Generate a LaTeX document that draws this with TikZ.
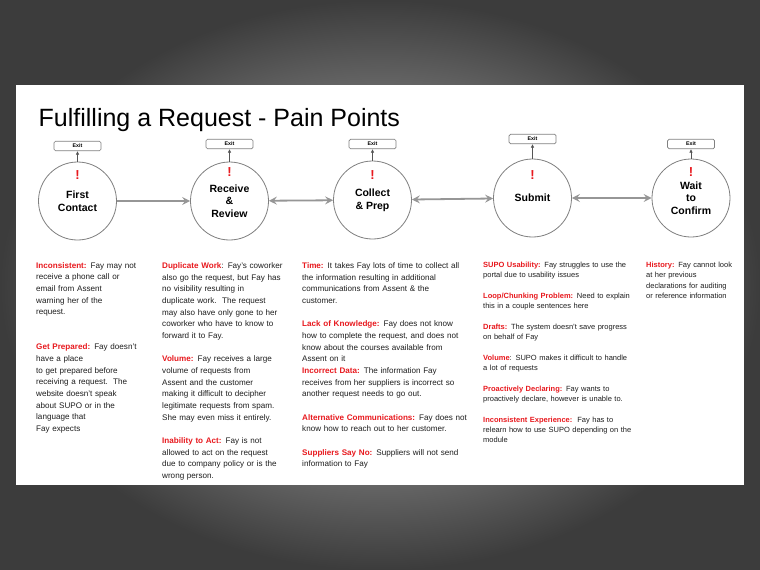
\documentclass[tikz,border=0pt]{standalone}
\usepackage{fontspec}
\setmainfont{Liberation Sans}
\usetikzlibrary{arrows.meta}
\definecolor{redlbl}{HTML}{E8191E}
\definecolor{bodytxt}{HTML}{1E1E1E}
\definecolor{circc}{HTML}{808080}
\definecolor{flowc}{HTML}{969696}
\definecolor{exitc}{HTML}{555555}
\definecolor{bgin}{HTML}{C4C4C4}
\definecolor{bgout}{HTML}{3C3C3C}
\newcommand{\hl}[1]{\textcolor{redlbl}{\bfseries #1}}
\begin{document}
\begin{tikzpicture}[x=1pt,y=-1pt,
  stage/.style={circle,draw=circc,line width=0.8pt,fill=white,minimum size=78pt,inner sep=0pt,align=center,
    font=\bfseries\fontsize{10.5}{12.7}\selectfont,text=black},
  exitbox/.style={draw=circc,line width=0.7pt,rounded corners=1.5pt,fill=white,minimum width=47pt,minimum height=9.5pt,inner sep=0pt,
    font=\bfseries\fontsize{5.3}{6}\selectfont},
  bang/.style={font=\bfseries\fontsize{13}{14}\selectfont,text=redlbl,inner sep=0pt},
  exitarrow/.style={draw=exitc,line width=0.8pt,-{Latex[length=3.5pt,width=3.5pt]}},
  flow/.style={draw=flowc,line width=1.8pt,-{Stealth[length=8pt,width=8pt,inset=3pt]}},
  flow2/.style={draw=flowc,line width=1.8pt,{Stealth[length=8pt,width=8pt,inset=3pt]}-{Stealth[length=8pt,width=8pt,inset=3pt]}},
  bodyA/.style={anchor=base west,inner sep=0pt,align=left,text=bodytxt,font=\fontsize{8.1}{11.67}\selectfont},
  bodyB/.style={anchor=base west,inner sep=0pt,align=left,text=bodytxt,font=\fontsize{7.5}{10.45}\selectfont}
]
\useasboundingbox (0,0) rectangle (760,570);
\shade[inner color=bgin, outer color=bgout] (0,0) rectangle (760,570);
\fill[white] (16,85) rectangle (744,485);

\node[anchor=base west,inner sep=0pt,font=\fontsize{25}{30}\selectfont] (title) at (38.5,126) {Fulfilling a Request - Pain Points};

% stages
\node[stage] (A) at (77.5,201) {First\\Contact};
\node[stage] (B) at (229.5,201) {Receive\\\&\\Review};
\node[stage] (C) at (372.5,200) {Collect\\\& Prep};
\node[stage] (D) at (532.5,198) {Submit};
\node[stage] (E) at (691,198) {Wait\\to\\Confirm};

% exits
\node[exitbox] (xA) at (77.5,146) {Exit};
\node[exitbox] (xB) at (229.5,144) {Exit};
\node[exitbox] (xC) at (372.5,144) {Exit};
\node[exitbox] (xD) at (532.5,139) {Exit};
\node[exitbox] (xE) at (691,144) {Exit};

\draw[exitarrow] (A.north) -- (xA.south);
\draw[exitarrow] (B.north) -- (xB.south);
\draw[exitarrow] (C.north) -- (xC.south);
\draw[exitarrow] (D.north) -- (xD.south);
\draw[exitarrow] (E.north) -- (xE.south);

% bangs
\node[bang] (bA) at (77.5,175) {!};
\node[bang] (bB) at (229.5,172.5) {!};
\node[bang] (bC) at (372.5,175) {!};
\node[bang] (bD) at (532.5,175) {!};
\node[bang] (bE) at (691,172.5) {!};

% flows
\draw[flow] (A) -- (B);
\draw[flow2] (B) -- (C);
\draw[flow2] (C) -- (D);
\draw[flow2] (D) -- (E);

% column texts
\node[bodyA,text width=125pt] (t1) at (36,268) {\hl{Inconsistent:} Fay may not\\receive a phone call or\\email from Assent\\warning her of the\\request.\\[23.34pt]
\hl{Get Prepared:} Fay doesn’t\\have a place\\to get prepared before\\receiving a request.\ \ The\\website doesn’t speak\\about SUPO or in the\\language that\\Fay expects};

\node[bodyA,text width=140pt] (t2) at (162,268.5) {\hl{Duplicate Work}: Fay’s coworker\\also go the request, but Fay has\\no visibility resulting in\\duplicate work.\ \ The request\\may also have only gone to her\\coworker who have to know to\\forward it to Fay.\\[11.67pt]
\hl{Volume:} Fay receives a large\\volume of requests from\\Assent and the customer\\making it difficult to decipher\\legitimate requests from spam.\\She may even miss it entirely.\\[11.67pt]
\hl{Inability to Act:} Fay is not\\allowed to act on the request\\due to company policy or is the\\wrong person.};

\node[bodyA,text width=175pt] (t3) at (302,268.5) {\hl{Time:} It takes Fay lots of time to collect all\\the information resulting in additional\\communications from Assent \& the\\customer.\\[11.67pt]
\hl{Lack of Knowledge:} Fay does not know\\how to complete the request, and does not\\know about the courses available from\\Assent on it\\
\hl{Incorrect Data:} The information Fay\\receives from her suppliers is incorrect so\\another request needs to go out.\\[11.67pt]
\hl{Alternative Communications:} Fay does not\\know how to reach out to her customer.\\[11.67pt]
\hl{Suppliers Say No:} Suppliers will not send\\information to Fay};

\node[bodyB,text width=170pt] (t4) at (483,267.5) {\hl{SUPO Usability:} Fay struggles to use the\\portal due to usability issues\\[10pt]
\hl{Loop/Chunking Problem:} Need to explain\\this in a couple sentences here\\[10pt]
\hl{Drafts:} The system doesn’t save progress\\on behalf of Fay\\[10pt]
\hl{Volume}: SUPO makes it difficult to handle\\a lot of requests\\[10pt]
\hl{Proactively Declaring:} Fay wants to\\proactively declare, however is unable to.\\[10pt]
\hl{Inconsistent Experience:}\ \ Fay has to\\relearn how to use SUPO depending on the\\module};

\node[bodyB,text width=95pt] (t5) at (646,267.5) {\hl{History:} Fay cannot look\\at her previous\\declarations for auditing\\or reference information};
\end{tikzpicture}
\end{document}
